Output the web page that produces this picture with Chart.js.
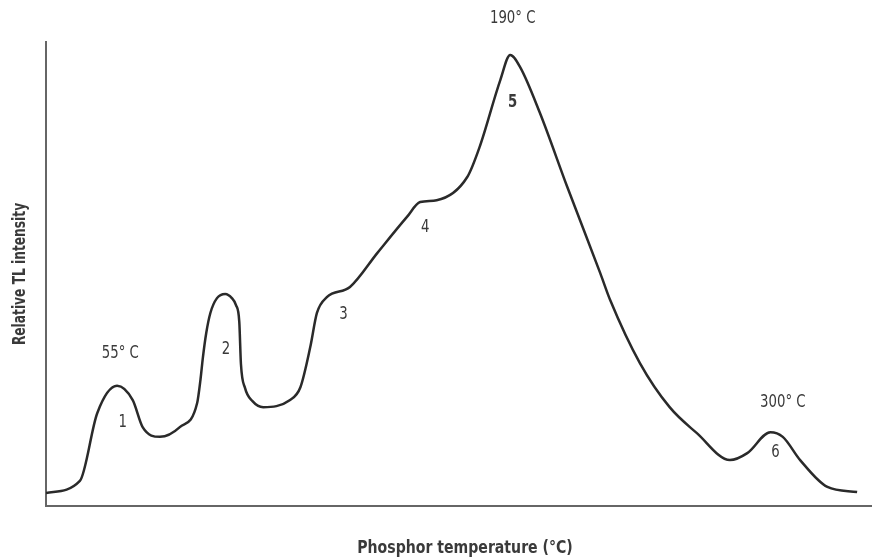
<!DOCTYPE html>
<html>
<head>
<meta charset="utf-8">
<title>TL glow curve</title>
<script src="https://cdn.jsdelivr.net/npm/chart.js@4/dist/chart.umd.min.js"></script>
<style>
  body { margin: 0; background: #fff; }
  #wrap { width: 872px; height: 559px; }
</style>
</head>
<body>
<div id="wrap"><canvas id="glow" width="872" height="559"></canvas></div>
<script>
// glow curve (x = arbitrary position along the temperature axis, y = relative intensity 0-100)
let curveX = [0, 4.1, 6.2, 8.6, 10.5, 11.7, 13.8, 16.2, 18.3, 18.7, 19.0, 19.4, 19.9, 20.7, 21.7, 22.5, 23.0,
    23.4, 23.6, 24.1, 25.0, 26.3, 29.5,
    30.8, 32.0, 32.8, 34.0, 36.8, 40.1, 43.7, 45.3, 47.3, 51.0, 52.5, 55.0, 56.2, 57.4, 59.8, 63.1, 67.1,
    68.3, 71.9, 75.5, 78.8, 82.8, 84.9, 87.7, 89.2, 91.3, 94.6, 98.2];
let curveY = [2.8, 5.4, 20.0, 25.9, 22.8, 17.0, 14.9, 17.0, 22.2, 27.2, 32.1, 37.3, 41.6, 44.8, 45.7, 44.8, 43.3,
    39.7, 30.6, 25.4, 22.6, 21.3, 22.8,
    25.6, 34.3, 41.6, 45.0, 47.2, 54.5, 62.3, 65.5, 65.9, 70.9, 77.4, 91.8, 97.2, 94.6, 84.7, 68.8, 50.2,
    44.4, 30.8, 21.3, 15.7, 9.9, 11.4, 15.9, 14.9, 9.9, 4.1, 3.0];

// peak labels, placed in data units
let noteText = ["55° C", "1", "2", "3", "4", "5", "190° C", "300° C", "6"];
let noteX = [9.0, 9.3, 21.8, 36.0, 45.9, 56.5, 56.5, 89.2, 88.3];
let noteY = [33.0, 18.1, 33.8, 41.4, 60.1, 87.1, 105.2, 22.4, 11.6];

let xTitle = "Phosphor temperature (°C)";
let yTitle = "Relative TL intensity";

let fontFam = '"Liberation Sans Narrow", "DejaVu Sans Condensed", sans-serif';
let textColor = "#3a3a3a";

let points = curveX.map((x, i) => ({ x: x, y: curveY[i] }));

// draws text squeezed horizontally, the reference uses a narrow face
function narrowText(ctx, text, x, y, squeeze) {
    ctx.save();
    ctx.translate(x, y);
    ctx.scale(squeeze, 1);
    ctx.fillText(text, 0, 0);
    ctx.restore();
}

let labelsPlugin = {
    id: "labels",
    afterDraw(chart) {
        let ctx = chart.ctx;
        let xs = chart.scales.x;
        let ys = chart.scales.y;
        let area = chart.chartArea;
        ctx.save();
        ctx.fillStyle = textColor;
        ctx.textAlign = "center";
        ctx.textBaseline = "middle";
        for (let i = 0; i < noteText.length; i++) {
            ctx.font = (noteText[i] === "5" ? "bold " : "") + "18px " + fontFam;
            narrowText(ctx, noteText[i], xs.getPixelForValue(noteX[i]), ys.getPixelForValue(noteY[i]), 0.82);
        }
        // axis titles
        ctx.font = "bold 18px " + fontFam;
        narrowText(ctx, xTitle, 465, area.bottom + 42, 0.87);
        ctx.translate(21, (area.top + area.bottom) / 2);
        ctx.rotate(-Math.PI / 2);
        ctx.font = "bold 17px " + fontFam;
        narrowText(ctx, yTitle, 0, 0, 0.8);
        ctx.restore();
    }
};

new Chart(document.getElementById("glow"), {
    type: "line",
    data: {
        datasets: [{
            data: points,
            borderColor: "#2a2a2a",
            borderWidth: 2.5,
            pointRadius: 0,
            cubicInterpolationMode: "monotone",
            fill: false
        }]
    },
    options: {
        responsive: false,
        animation: false,
        layout: { autoPadding: false, padding: { left: 46, top: 42, right: 0, bottom: 53 } },
        plugins: { legend: { display: false }, tooltip: { enabled: false } },
        scales: {
            x: {
                type: "linear",
                min: 0,
                max: 100,
                ticks: { display: false },
                grid: { display: false, drawTicks: false },
                border: { display: true, color: "#666", width: 2 }
            },
            y: {
                min: 0,
                max: 100,
                ticks: { display: false },
                grid: { display: false, drawTicks: false },
                border: { display: true, color: "#666", width: 2 }
            }
        }
    },
    plugins: [labelsPlugin]
});
</script>
</body>
</html>
